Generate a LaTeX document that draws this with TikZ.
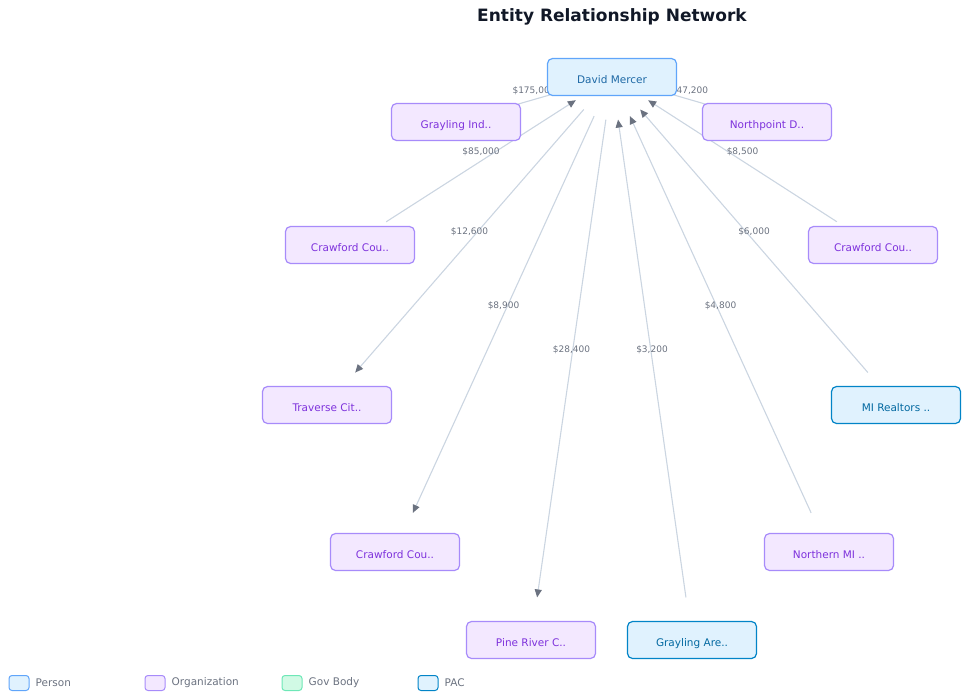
\documentclass[tikz,border=0pt]{standalone}
\usepackage{fontspec}
\setmainfont{DejaVu Sans}
\usepackage{tikz}
\usetikzlibrary{arrows.meta, positioning, backgrounds}
\definecolor{personfill}{RGB}{224,242,254}
\definecolor{persondraw}{RGB}{96,165,250}
\definecolor{persontext}{RGB}{30,105,165}
\definecolor{orgfill}{RGB}{243,232,255}
\definecolor{orgdraw}{RGB}{167,139,250}
\definecolor{orgtext}{RGB}{126,50,220}
\definecolor{govfill}{RGB}{209,250,229}
\definecolor{govdraw}{RGB}{110,231,183}
\definecolor{pacfill}{RGB}{224,242,254}
\definecolor{pacdraw}{RGB}{2,132,199}
\definecolor{pactext}{RGB}{3,105,161}
\definecolor{edgecolor}{RGB}{203,213,225}
\definecolor{tipcolor}{RGB}{107,114,128}
\definecolor{labelgray}{RGB}{107,114,128}
\definecolor{titlecolor}{RGB}{17,24,39}

\begin{document}
\begin{tikzpicture}[
    x=1pt, y=-1pt,
    entity/.style={draw, rounded corners=5pt, line width=1.2pt, minimum width=129pt, minimum height=37pt, text height=12pt, text depth=0pt, font=\fontsize{10.5}{12}\selectfont},
    person/.style={entity, fill=personfill, draw=persondraw, text=persontext},
    org/.style={entity, fill=orgfill, draw=orgdraw, text=orgtext},
    pac/.style={entity, fill=pacfill, draw=pacdraw, text=pactext},
    flow/.style={draw=edgecolor, line width=1.1pt, shorten >=43pt, shorten <=43pt, -{Triangle[length=8pt, width=7pt, color=tipcolor]}},
    amount/.style={midway, yshift=9pt, text=labelgray, font=\fontsize{9}{10}\selectfont},
    keybox/.style={draw, rounded corners=3pt, line width=1pt, minimum width=20pt, minimum height=15pt, inner sep=0pt},
    keytext/.style={right=5pt, text=labelgray, font=\fontsize{10.5}{12}\selectfont, inner sep=0pt},
]
    \useasboundingbox (0,0) rectangle (963,696);

    % Title
    \node[font=\fontsize{17}{20}\selectfont\bfseries, text=titlecolor] (title) at (612,17) {Entity Relationship Network};

    % Centre
    \node[person] (david) at (612,77) {David Mercer};
    % Upper ring
    \node[org] (graylingind) at (456,122) {Grayling Ind..};
    \node[org] (northpoint) at (767,122) {Northpoint D..};
    \node[org] (crawfordl) at (350,245) {Crawford Cou..};
    \node[org] (crawfordr) at (873,245) {Crawford Cou..};
    % Middle
    \node[org] (traverse) at (327,405) {Traverse Cit..};
    \node[pac] (realtors) at (896,405) {MI Realtors ..};
    % Lower ring
    \node[org] (crawfordb) at (395,552) {Crawford Cou..};
    \node[org] (northernmi) at (829,552) {Northern MI ..};
    \node[org] (pineriver) at (531,640) {Pine River C..};
    \node[pac] (graylingpac) at (692,640) {Grayling Are..};

    % Contributions
    \begin{scope}[on background layer]
        \draw[flow] (graylingind.center) -- (david.center) node[amount] {\$175,000};
        \draw[flow] (northpoint.center) -- (david.center) node[amount] {\$47,200};
        \draw[flow] (crawfordl.center) -- (david.center) node[amount] {\$85,000};
        \draw[flow] (crawfordr.center) -- (david.center) node[amount] {\$8,500};
        \draw[flow] (david.center) -- (traverse.center) node[amount] {\$12,600};
        \draw[flow] (realtors.center) -- (david.center) node[amount] {\$6,000};
        \draw[flow] (david.center) -- (crawfordb.center) node[amount] {\$8,900};
        \draw[flow] (northernmi.center) -- (david.center) node[amount] {\$4,800};
        \draw[flow] (david.center) -- (pineriver.center) node[amount] {\$28,400};
        \draw[flow] (graylingpac.center) -- (david.center) node[amount] {\$3,200};
    \end{scope}

    % Legend
    \node[keybox, fill=personfill, draw=persondraw] (kperson) at (19,683) {};
    \node[keytext, right=6pt of kperson] {Person};
    \node[keybox, fill=orgfill, draw=orgdraw] (korg) at (155,683) {};
    \node[keytext, right=6pt of korg] {Organization};
    \node[keybox, fill=govfill, draw=govdraw] (kgov) at (292,683) {};
    \node[keytext, right=6pt of kgov] {Gov Body};
    \node[keybox, fill=pacfill, draw=pacdraw] (kpac) at (428,683) {};
    \node[keytext, right=6pt of kpac] {PAC};
\end{tikzpicture}
\end{document}
